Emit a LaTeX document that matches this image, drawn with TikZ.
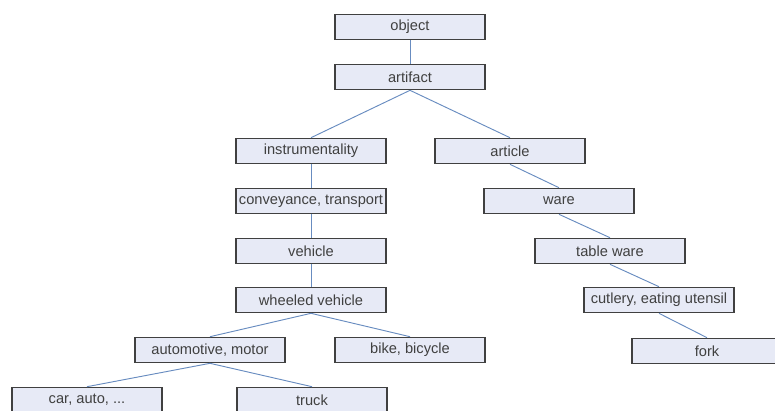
\documentclass[tikz,border=0pt]{standalone}
\usepackage{fontspec}
\setmainfont{Liberation Sans}
\definecolor{boxfill}{RGB}{231,234,246}
\definecolor{boxline}{RGB}{64,64,64}
\definecolor{linkblue}{RGB}{104,140,192}

\begin{document}
\begin{tikzpicture}[
  x=0.03cm, y=-0.03cm,
  concept/.style={draw=boxline, line width=1.1pt, fill=boxfill, minimum width=4.5cm, minimum height=0.76cm, inner sep=0pt, text=black!75, font=\fontsize{12.5}{14}\selectfont},
  link/.style={draw=linkblue, line width=0.8pt}
]
\clip (0,0) rectangle (775,410);
\node[concept] (object) at (410,27) {object};
\node[concept] (artifact) at (410,77) {artifact};
\node[concept] (instr) at (311,151) {instrumentality};
\node[concept] (article) at (510,151) {article};
\node[concept] (convey) at (311,201) {conveyance, transport};
\node[concept] (vehicle) at (311,251) {vehicle};
\node[concept] (wheeled) at (311,300) {wheeled vehicle};
\node[concept] (auto) at (210,350) {automotive, motor};
\node[concept] (bike) at (410,350) {bike, bicycle};
\node[concept] (car) at (87,400) {car, auto, ...};
\node[concept] (truck) at (312,400) {truck};
\node[concept] (ware) at (559,201) {ware};
\node[concept] (table) at (610,251) {table ware};
\node[concept] (cutlery) at (659,300) {cutlery, eating utensil};
\node[concept] (fork) at (707,351) {fork};

\draw[link] (object) -- (artifact);
\draw[link] (artifact.south) -- (instr.north);
\draw[link] (artifact.south) -- (article.north);
\draw[link] (instr) -- (convey);
\draw[link] (convey) -- (vehicle);
\draw[link] (vehicle) -- (wheeled);
\draw[link] (wheeled.south) -- (auto.north);
\draw[link] (wheeled.south) -- (bike.north);
\draw[link] (auto.south) -- (car.north);
\draw[link] (auto.south) -- (truck.north);
\draw[link] (article.south) -- (ware.north);
\draw[link] (ware.south) -- (table.north);
\draw[link] (table.south) -- (cutlery.north);
\draw[link] (cutlery.south) -- (fork.north);
\end{tikzpicture}
\end{document}
